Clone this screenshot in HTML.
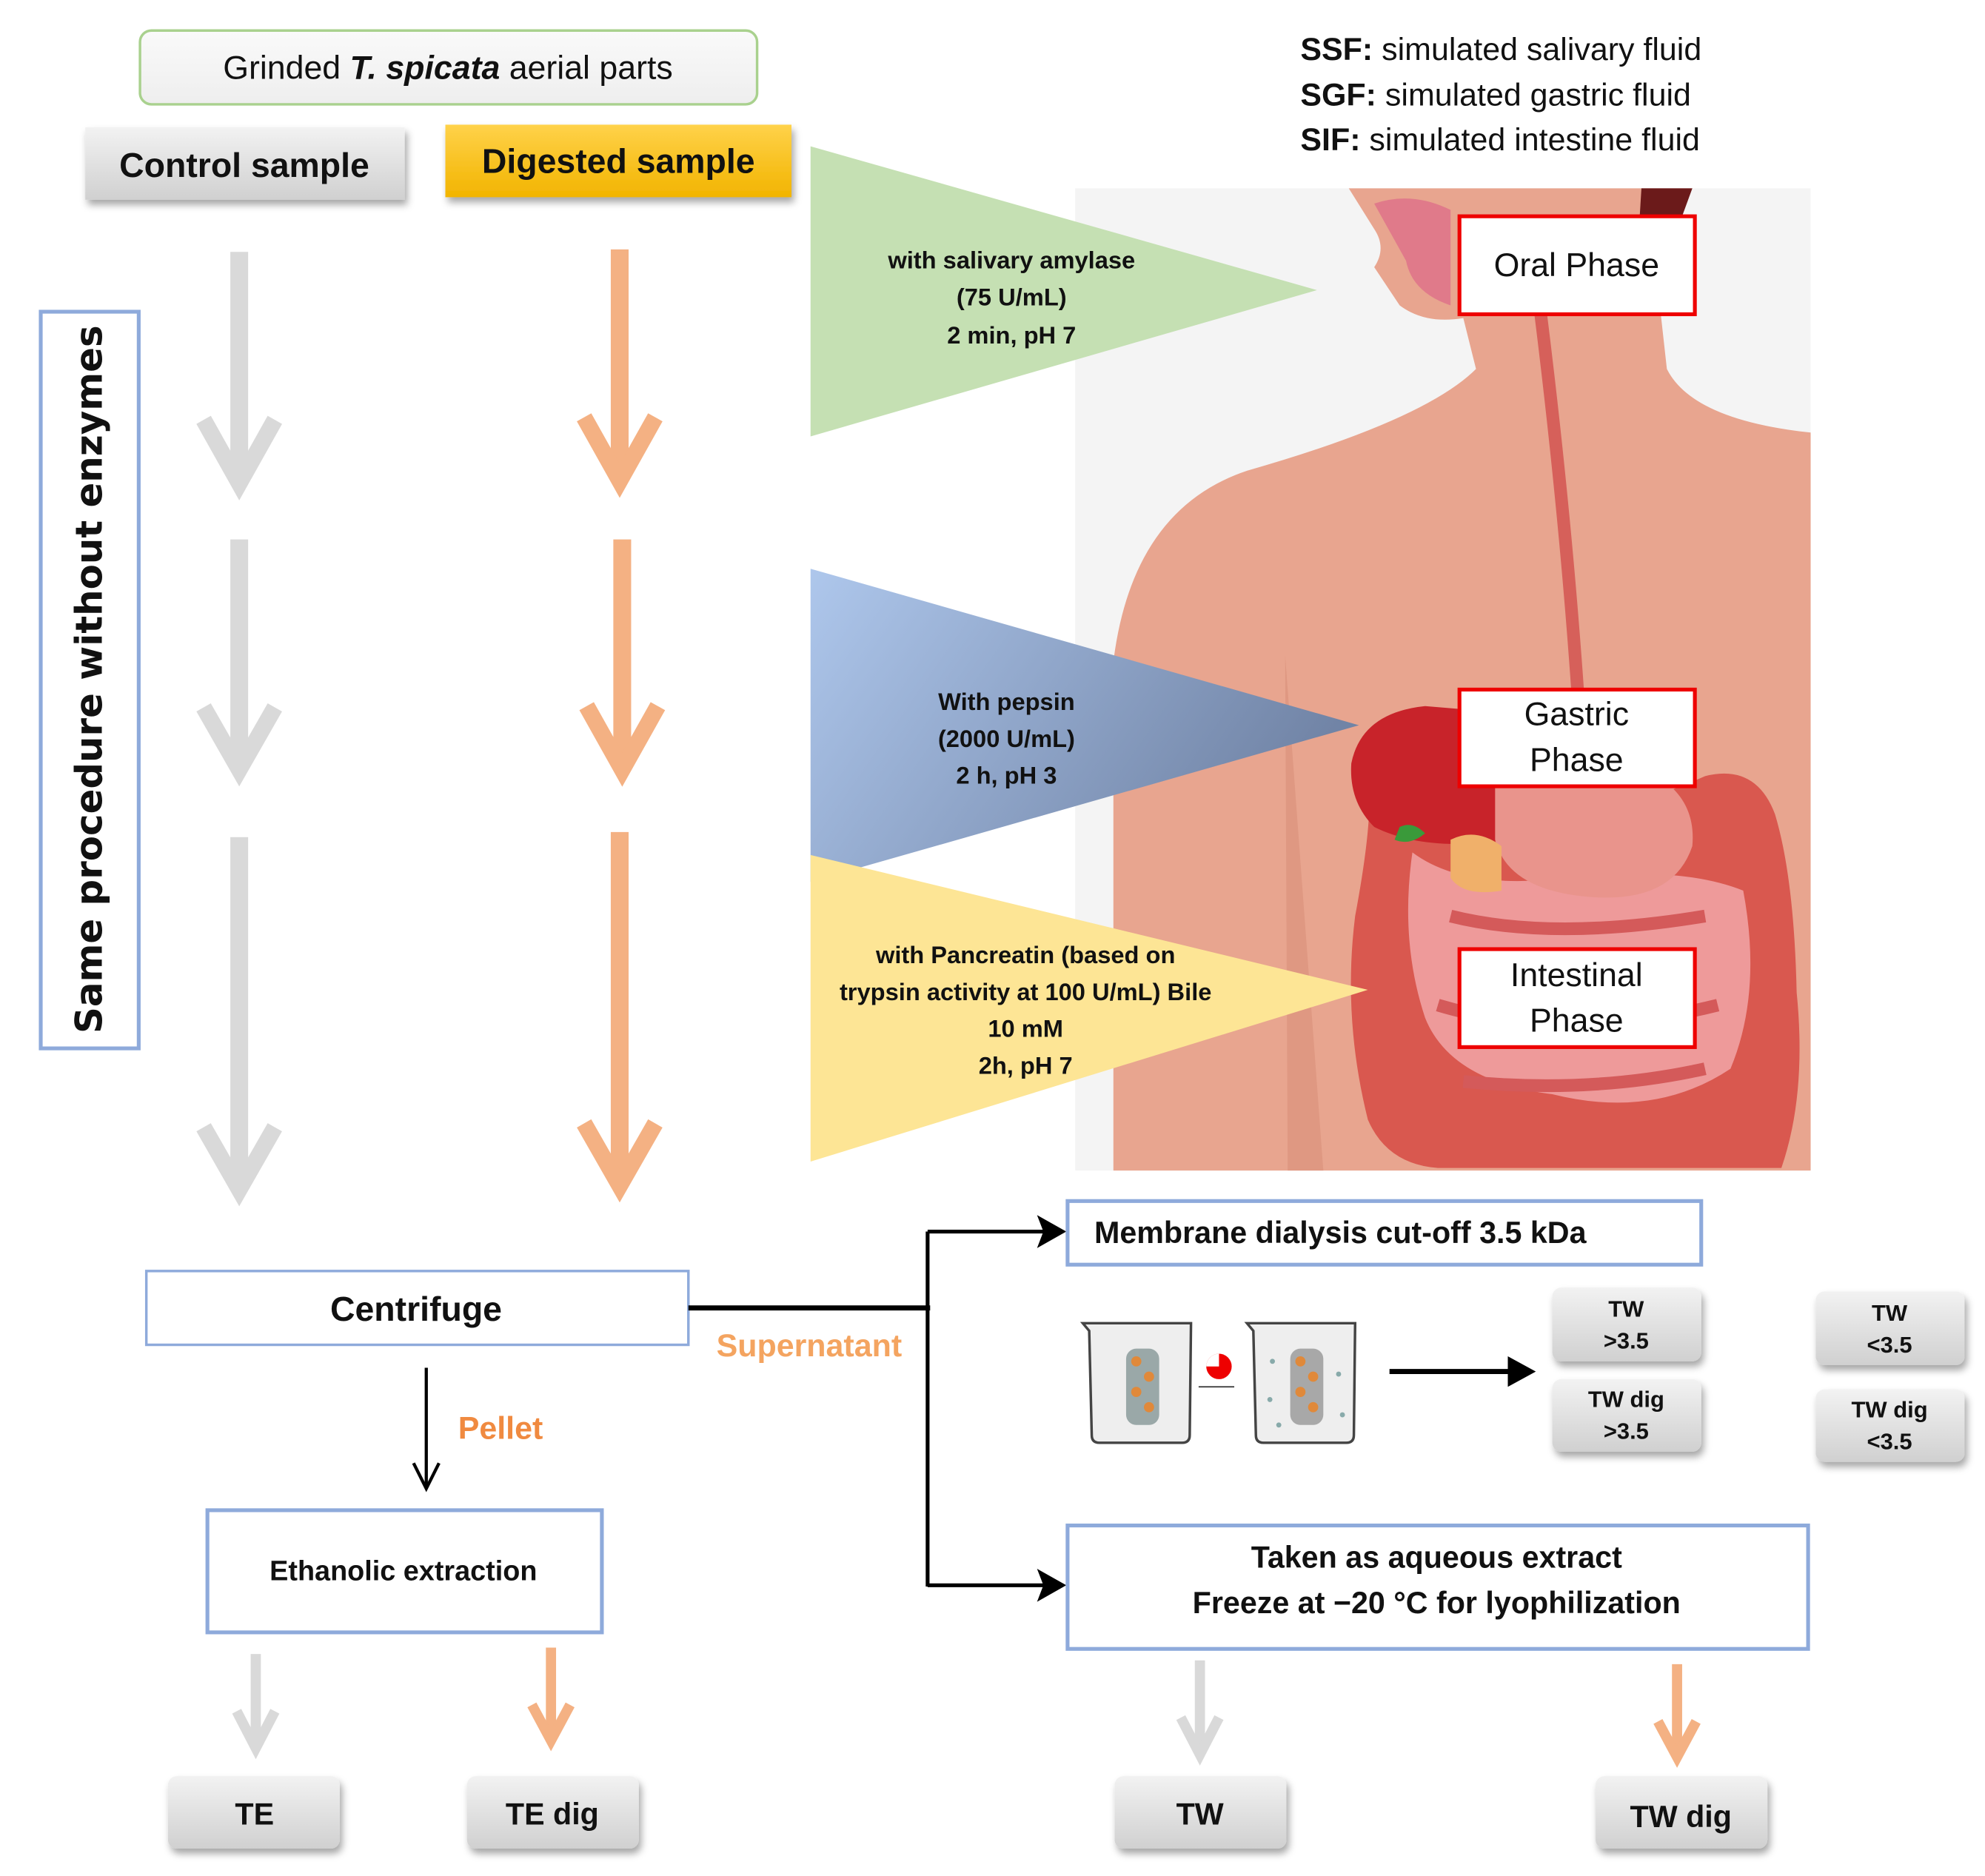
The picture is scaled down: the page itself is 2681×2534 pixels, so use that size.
<!DOCTYPE html>
<html><head><meta charset="utf-8"><style>
html,body{margin:0;padding:0;background:#fff;}
svg{display:block;}
text{font-family:"Liberation Sans",sans-serif;}
</style></head><body>
<svg width="2681" height="2534" viewBox="0 0 1560 1474.5" xmlns="http://www.w3.org/2000/svg">
<defs>
<linearGradient id="gG" x1="0" y1="0" x2="0" y2="1"><stop offset="0" stop-color="#f2f2f2"/><stop offset="1" stop-color="#d0d0d0"/></linearGradient>
<linearGradient id="gY" x1="0" y1="0" x2="0" y2="1"><stop offset="0" stop-color="#ffd24a"/><stop offset="1" stop-color="#f2b400"/></linearGradient>
<linearGradient id="gB" x1="0" y1="0" x2="1" y2="0.4"><stop offset="0" stop-color="#aec7ec"/><stop offset="1" stop-color="#7184a6"/></linearGradient>
<linearGradient id="gL" x1="0" y1="0" x2="0" y2="1"><stop offset="0" stop-color="#fafafa"/><stop offset="1" stop-color="#eeeeee"/></linearGradient>
<filter id="sh" x="-10%" y="-10%" width="130%" height="140%"><feDropShadow dx="2" dy="4" stdDeviation="3" flood-color="#000" flood-opacity="0.35"/></filter>
</defs>

<rect x="110" y="24" width="485" height="58" rx="9" fill="url(#gL)" stroke="#a9d18e" stroke-width="2"/>
<text x="352" y="62" font-size="26" text-anchor="middle" fill="#111">Grinded <tspan font-weight="bold" font-style="italic">T. spicata</tspan> aerial parts</text>
<rect x="67" y="100" width="251" height="57" fill="url(#gG)" filter="url(#sh)"/>
<text x="192" y="139" font-size="27" font-weight="bold" text-anchor="middle" fill="#111">Control sample</text>
<rect x="350" y="98" width="272" height="57" fill="url(#gY)" filter="url(#sh)"/>
<text x="486" y="136" font-size="27" font-weight="bold" text-anchor="middle" fill="#111">Digested sample</text>

<text font-size="25" fill="#111"><tspan x="1022" y="47" font-weight="bold">SSF:</tspan><tspan> simulated salivary fluid</tspan></text>
<text font-size="25" fill="#111"><tspan x="1022" y="83" font-weight="bold">SGF:</tspan><tspan> simulated gastric  fluid</tspan></text>
<text font-size="25" fill="#111"><tspan x="1022" y="118" font-weight="bold">SIF:</tspan><tspan> simulated intestine fluid</tspan></text>

<rect x="845" y="148" width="578" height="772" fill="#f4f4f4"/>
<path d="M1060 148 L1330 148 L1300 200 L1310 290 Q1330 330 1423 340 L1423 920 L875 920 L875 520 Q890 400 980 370 Q1120 330 1160 290 L1150 250 Q1120 255 1100 240 L1080 210 Q1090 195 1080 180 Z" fill="#e8a58f"/>
<path d="M1290 148 L1330 148 L1300 230 L1285 230 Z" fill="#6b1a1a"/>
<path d="M1080 160 Q1110 150 1140 165 L1140 240 Q1110 230 1105 205 Z" fill="#e07a8a"/>
<path d="M1010 515 L1012 920 L1040 920 Z" fill="#d98f7a" opacity="0.6"/>
<path d="M1205 240 Q1225 400 1235 545 L1245 545 Q1235 400 1215 240 Z" fill="#d6605a"/>
<path d="M1075 610 Q1080 640 1065 720 Q1055 800 1075 880 Q1090 915 1130 918 L1400 918 Q1420 860 1412 780 Q1410 690 1395 640 Q1380 600 1340 610 Q1250 650 1180 640 Q1120 630 1075 610 Z" fill="#d9584f"/>
<path d="M1110 670 Q1150 700 1230 690 Q1320 680 1370 700 Q1385 780 1360 840 Q1300 880 1220 860 Q1140 850 1120 800 Q1100 740 1110 670 Z" fill="#ee9a9a"/>
<path d="M1140 720 Q1220 740 1340 720 M1130 790 Q1230 820 1350 790 M1150 850 Q1250 860 1340 840" stroke="#d45a5a" stroke-width="10" fill="none"/>
<path d="M1062 600 Q1070 560 1120 555 L1180 560 L1185 660 Q1120 670 1080 650 Q1060 630 1062 600 Z" fill="#c8232a"/>
<path d="M1175 610 Q1200 580 1260 595 Q1335 610 1330 665 Q1315 710 1250 705 Q1185 700 1175 660 Z" fill="#e9948c"/>
<path d="M1100 650 Q1110 645 1120 655 Q1108 665 1096 660 Z" fill="#3a9a3a"/>
<path d="M1140 660 Q1160 650 1180 665 L1180 700 Q1150 705 1140 690 Z" fill="#f0b06a"/>

<rect x="1147" y="170" width="185" height="77" fill="#fff" stroke="#ee0000" stroke-width="3"/>
<text x="1239" y="217" font-size="26" text-anchor="middle" fill="#111">Oral Phase</text>
<rect x="1147" y="542" width="185" height="76" fill="#fff" stroke="#ee0000" stroke-width="3"/>
<text x="1239" y="570" font-size="26" text-anchor="middle" fill="#111">Gastric</text>
<text x="1239" y="606" font-size="26" text-anchor="middle" fill="#111">Phase</text>
<rect x="1147" y="746" width="185" height="77" fill="#fff" stroke="#ee0000" stroke-width="3"/>
<text x="1239" y="775" font-size="26" text-anchor="middle" fill="#111">Intestinal</text>
<text x="1239" y="811" font-size="26" text-anchor="middle" fill="#111">Phase</text>

<polygon points="637,115 1035,228 637,343" fill="#c5e0b3"/>
<text font-size="19" font-weight="bold" text-anchor="middle" fill="#111"><tspan x="795" y="211">with salivary amylase</tspan><tspan x="795" y="240">(75 U/mL)</tspan><tspan x="795" y="270">2 min, pH 7</tspan></text>
<polygon points="637,447 1068,570 637,693" fill="url(#gB)"/>
<polygon points="637,672 1075,778 637,913" fill="#fde595"/>
<text font-size="19" font-weight="bold" text-anchor="middle" fill="#111"><tspan x="791" y="558">With pepsin</tspan><tspan x="791" y="587">(2000 U/mL)</tspan><tspan x="791" y="616">2 h, pH 3</tspan></text>
<text font-size="19" font-weight="bold" text-anchor="middle" fill="#111"><tspan x="806" y="757">with  Pancreatin (based on</tspan><tspan x="806" y="786">trypsin activity at 100 U/mL) Bile</tspan><tspan x="806" y="815">10 mM</tspan><tspan x="806" y="844">2h, pH 7</tspan></text>

<rect x="32" y="245" width="77" height="579" fill="#fff" stroke="#8eaadb" stroke-width="3"/>
<text transform="translate(80,534) rotate(-90)" font-size="29" font-weight="bold" text-anchor="middle" fill="#111" style="font-family:'DejaVu Sans',sans-serif">Same procedure without enzymes</text>

<g stroke="#d9d9d9" fill="none" stroke-linejoin="miter" stroke-miterlimit="10">
<line x1="188" y1="198" x2="188" y2="375" stroke-width="14"/><polyline points="160,330 188,380 216,330" stroke-width="13"/>
<line x1="188" y1="424" x2="188" y2="600" stroke-width="14"/><polyline points="160,556 188,605 216,556" stroke-width="13"/>
<line x1="188" y1="658" x2="188" y2="930" stroke-width="14"/><polyline points="160,886 188,935 216,886" stroke-width="13"/>
</g>
<g stroke="#f4b183" fill="none" stroke-linejoin="miter" stroke-miterlimit="10">
<line x1="487" y1="196" x2="487" y2="373" stroke-width="14"/><polyline points="459,328 487,378 515,328" stroke-width="13"/>
<line x1="489" y1="424" x2="489" y2="600" stroke-width="14"/><polyline points="461,555 489,605 517,555" stroke-width="13"/>
<line x1="487" y1="654" x2="487" y2="928" stroke-width="14"/><polyline points="459,883 487,932 515,883" stroke-width="13"/>
</g>

<rect x="115" y="999" width="426" height="58" fill="#fff" stroke="#8eaadb" stroke-width="2"/>
<text x="327" y="1038" font-size="27" font-weight="bold" text-anchor="middle" fill="#111">Centrifuge</text>
<line x1="541" y1="1028" x2="731" y2="1028" stroke="#000" stroke-width="4"/>
<line x1="729" y1="968" x2="729" y2="1247" stroke="#000" stroke-width="3"/>
<line x1="729" y1="968" x2="830" y2="968" stroke="#000" stroke-width="3"/>
<path d="M815 955 L838 968 L815 981 L820 968Z" fill="#000"/>
<line x1="729" y1="1246" x2="830" y2="1246" stroke="#000" stroke-width="3"/>
<path d="M815 1233 L838 1246 L815 1259 L820 1246Z" fill="#000"/>
<text x="563" y="1066" font-size="25" font-weight="bold" fill="#f4a460">Supernatant</text>
<line x1="335" y1="1075" x2="335" y2="1168" stroke="#000" stroke-width="2.5"/>
<path d="M325 1150 L335 1170 L345 1150" stroke="#000" stroke-width="2.5" fill="none"/>
<text x="360" y="1131" font-size="25" font-weight="bold" fill="#f08a40">Pellet</text>
<rect x="163" y="1187" width="310" height="96" fill="#fff" stroke="#8eaadb" stroke-width="3"/>
<text x="317" y="1242" font-size="22" font-weight="bold" text-anchor="middle" fill="#111">Ethanolic extraction</text>

<rect x="839" y="944" width="498" height="50" fill="#fff" stroke="#8eaadb" stroke-width="3"/>
<text x="860" y="977" font-size="24" font-weight="bold" fill="#111">Membrane dialysis cut-off 3.5 kDa</text>
<rect x="839" y="1199" width="582" height="97" fill="#fff" stroke="#8eaadb" stroke-width="3"/>
<text x="1129" y="1232" font-size="24" font-weight="bold" text-anchor="middle" fill="#111">Taken as aqueous extract</text>
<text x="1129" y="1268" font-size="24" font-weight="bold" text-anchor="middle" fill="#111">Freeze  at  −20 °C for lyophilization</text>

<g stroke="#444" stroke-width="2" fill="#eeeeee">
<path d="M851 1040 L936 1040 L935 1128 Q935 1134 929 1134 L864 1134 Q858 1134 858 1128 L856 1046 Z"/>
<path d="M980 1040 L1065 1040 L1064 1128 Q1064 1134 1058 1134 L993 1134 Q987 1134 987 1128 L985 1046 Z"/>
</g>
<rect x="885" y="1060" width="26" height="60" rx="8" fill="#9aa8a8"/>
<rect x="1014" y="1060" width="26" height="60" rx="8" fill="#a8a8a8"/>
<g fill="#e0893a"><circle cx="893" cy="1070" r="4"/><circle cx="903" cy="1082" r="4"/><circle cx="893" cy="1094" r="4"/><circle cx="903" cy="1106" r="4"/><circle cx="1022" cy="1070" r="4"/><circle cx="1032" cy="1082" r="4"/><circle cx="1022" cy="1094" r="4"/><circle cx="1032" cy="1106" r="4"/></g>
<g fill="#8aa"><circle cx="1000" cy="1070" r="2"/><circle cx="1052" cy="1080" r="2"/><circle cx="998" cy="1100" r="2"/><circle cx="1055" cy="1112" r="2"/><circle cx="1005" cy="1120" r="2"/></g>
<circle cx="958" cy="1074" r="10" fill="#e00"/><path d="M958 1074 L958 1064 A10 10 0 0 0 948 1074Z" fill="#fff"/>
<line x1="942" y1="1090" x2="970" y2="1090" stroke="#333" stroke-width="1"/>
<line x1="1092" y1="1078" x2="1195" y2="1078" stroke="#000" stroke-width="4"/>
<path d="M1185 1066 L1207 1078 L1185 1090 Z" fill="#000"/>

<g filter="url(#sh)">
<rect x="1220" y="1012" width="117" height="58" rx="7" fill="url(#gG)"/>
<rect x="1220" y="1084" width="117" height="57" rx="7" fill="url(#gG)"/>
<rect x="1427" y="1015" width="117" height="58" rx="7" fill="url(#gG)"/>
<rect x="1427" y="1092" width="117" height="57" rx="7" fill="url(#gG)"/>
<rect x="132" y="1396" width="135" height="57" rx="7" fill="url(#gG)"/>
<rect x="367" y="1396" width="135" height="57" rx="7" fill="url(#gG)"/>
<rect x="876" y="1396" width="135" height="57" rx="7" fill="url(#gG)"/>
<rect x="1254" y="1396" width="135" height="57" rx="7" fill="url(#gG)"/>
</g>
<g font-size="18" font-weight="bold" text-anchor="middle" fill="#111">
<text x="1278" y="1035">TW</text><text x="1278" y="1060">&gt;3.5</text>
<text x="1278" y="1106">TW dig</text><text x="1278" y="1131">&gt;3.5</text>
<text x="1485" y="1038">TW</text><text x="1485" y="1063">&lt;3.5</text>
<text x="1485" y="1114">TW dig</text><text x="1485" y="1139">&lt;3.5</text>
</g>
<g font-size="24" font-weight="bold" text-anchor="middle" fill="#111">
<text x="200" y="1434">TE</text><text x="434" y="1434">TE dig</text><text x="943" y="1434">TW</text><text x="1321" y="1436">TW dig</text>
</g>

<g stroke="#d9d9d9" fill="none">
<line x1="201" y1="1300" x2="201" y2="1370" stroke-width="8"/><polyline points="186,1345 201,1374 216,1345" stroke-width="8"/>
<line x1="943" y1="1305" x2="943" y2="1375" stroke-width="8"/><polyline points="928,1350 943,1379 958,1350" stroke-width="8"/>
</g>
<g stroke="#f4b183" fill="none">
<line x1="433" y1="1295" x2="433" y2="1364" stroke-width="8"/><polyline points="418,1340 433,1368 448,1340" stroke-width="8"/>
<line x1="1318" y1="1308" x2="1318" y2="1377" stroke-width="8"/><polyline points="1303,1353 1318,1381 1333,1353" stroke-width="8"/>
</g>
</svg>
</body></html>
